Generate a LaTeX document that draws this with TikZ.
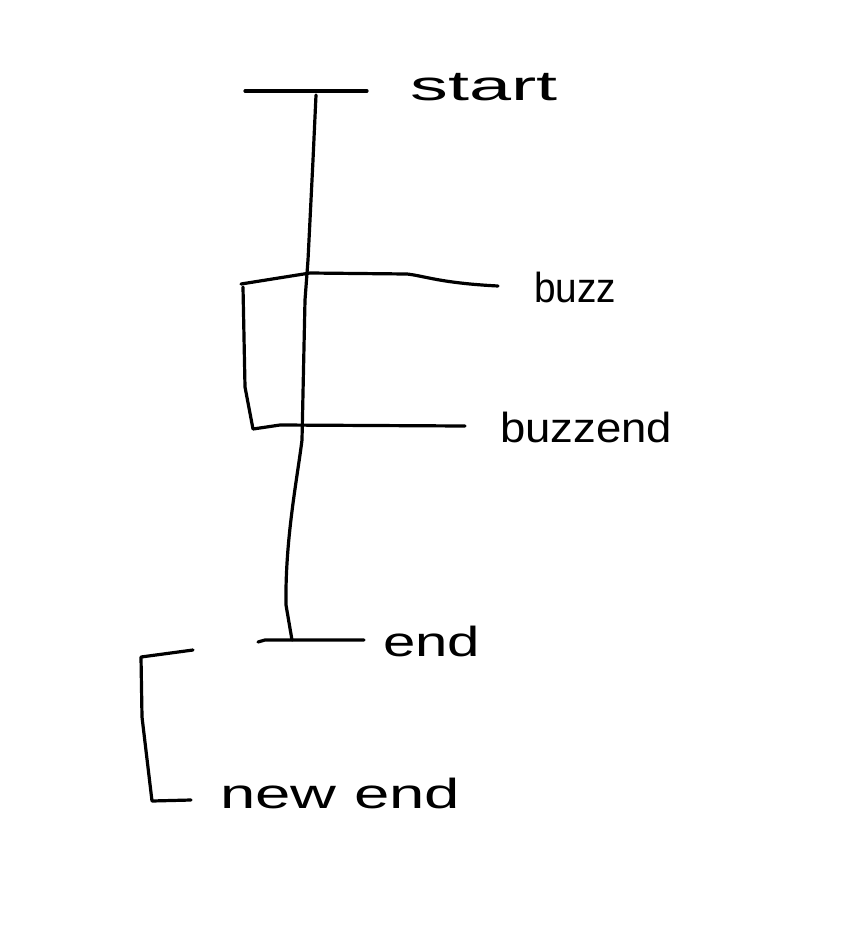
\documentclass[tikz,border=0pt]{standalone}
\usepackage{fontspec}
\setmainfont{Liberation Sans}
\begin{document}
\begin{tikzpicture}[x=1pt,y=-1pt,
  stroke/.style={line width=3.2pt,line cap=round,line join=round},
  label/.style={anchor=base west,inner sep=0pt,font=\fontsize{42}{46}\selectfont}]
\fill[white] (0,0) rectangle (848,946);
\useasboundingbox (0,0) rectangle (848,946);
% named points
\coordinate (s1) at (245,91);
\coordinate (s2) at (367,91);
\coordinate (m0) at (316,95);
\coordinate (b1) at (241,284);
\coordinate (b2) at (498,286);
\coordinate (z1) at (253,429);
\coordinate (z2) at (465,426);
\coordinate (e1) at (258,642);
\coordinate (e2) at (364,640);
\coordinate (mEnd) at (292,640);
\coordinate (n1) at (193,650);
\coordinate (n2) at (191,800);
% labels
\node[label] (start) at (410,100) {\resizebox{147pt}{\height}{start}};
\node[label] (buzz) at (534,302) {\resizebox{82pt}{\height}{buzz}};
\node[label] (buzzend) at (500,442) {\resizebox{172pt}{\height}{buzzend}};
\node[label] (end) at (383,656) {\resizebox{97pt}{\height}{end}};
\node[label] (newend) at (220,808) {\resizebox{240pt}{\height}{new end}};
% bars
\draw[stroke] (s1) -- (s2);
\draw[stroke] (b1) -- (310,273) -- (407,274) .. controls (425,276) and (440,283) .. (b2);
\draw[stroke] (243,287) -- (245,387) -- (z1) -- (280,425) -- (z2);
\draw[stroke] (e1) -- (265,640) -- (e2);
% main line
\draw[stroke] (m0) -- (313,160) -- (308,260) -- (305,300) -- (302,440)
  .. controls (297,480) and (285,540) .. (286,605) -- (mEnd);
% new end bracket
\draw[stroke] (n1) -- (141,657) -- (142,717) -- (152,801) -- (n2);
\end{tikzpicture}
\end{document}
